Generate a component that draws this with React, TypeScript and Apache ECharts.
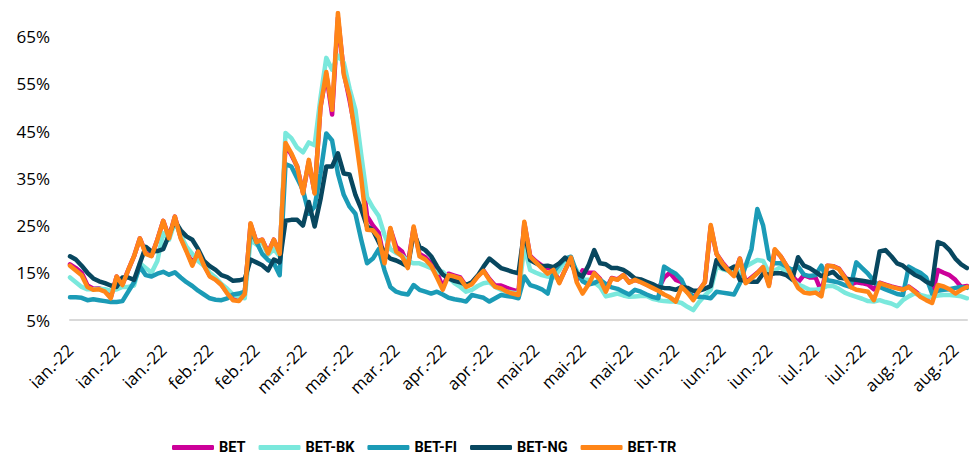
import React, { useEffect, useRef } from "react";
import * as echarts from "echarts";

// month label per trading day (label shown every 8th point)
const monthCounts: [string, number][] = [
  ["ian.-22", 22],
  ["feb.-22", 18],
  ["mar.-22", 23],
  ["apr.-22", 17],
  ["mai-22", 22],
  ["iun.-22", 22],
  ["iul.-22", 20],
  ["aug.-22", 11],
];
const categories: string[] = [];
monthCounts.forEach(([m, n]) => {
  for (let k = 0; k < n; k++) categories.push(m);
});

const yTicks = [5, 15, 25, 35, 45, 55, 65];

const betTR = [
  16.5, 15.5, 14.5, 12, 11.4, 11.5, 11, 9.6, 14.2, 12.4,
  15.6, 18.5, 22.3, 19, 18.5, 22, 26, 22.3, 26.9, 22.3,
  19.5, 16.5, 19.5, 16.5, 14.2, 13.5, 12.4, 10.6, 9.2, 9.0,
  10.5, 25.5, 21.5, 22, 19.1, 22, 19, 42.5, 40.3, 37.5,
  31.8, 38.9, 31.8, 50, 57.5, 49.5, 70, 57, 52.3, 44,
  35, 24.1, 24, 22.5, 17, 24.5, 19.5, 18.5, 16, 24.8,
  18.5, 17.8, 16.5, 14, 11.4, 14.5, 14.2, 13.8, 12, 12.6,
  14.2, 15.4, 13.5, 12, 11.7, 11, 10.6, 10.3, 25.8, 18.4,
  17.2, 16, 14.8, 15.6, 12.8, 15.6, 18.2, 13, 10.6, 12.5,
  14.9, 13.5, 11, 13.8, 13.5, 14.5, 12.9, 13.5, 13, 12.4,
  11.8, 11.2, 10.4, 9.8, 8.9, 12, 10.8, 9.2, 11.2, 13,
  25.1, 19, 17, 15.5, 14.3, 18, 12.8, 13.8, 14.9, 16.2,
  12.2, 20, 18.5, 16.5, 14, 11.8, 10.8, 10.6, 10.8, 10,
  16.5, 16.4, 15.8, 14, 12, 11.4, 11.2, 11, 9.2, 12.8,
  12.4, 12, 11.7, 11.4, 12, 11, 9.9, 9.2, 8.6, 12.4,
  12.1, 11.5, 10.6, 11.4, 12,
];

const bet = [
  16.8, 16, 15, 12.3, 11.6, 11.7, 11.2, 9.8, 14.2, 12.5,
  15.6, 18.5, 22.3, 19.2, 18.6, 22, 26, 22.5, 26.9, 22.5,
  19.8, 16.8, 19.6, 16.7, 14.4, 13.6, 12.5, 10.8, 9.4, 9.2,
  10.6, 25.3, 21.6, 22, 19.3, 22, 19.2, 42, 40, 37.5,
  32, 38.5, 32, 50, 57, 48.5, 69, 57.5, 51.5, 45,
  37, 27, 25, 23.5, 17.5, 24.3, 20.5, 19.5, 16.8, 24.5,
  19, 18.3, 17, 15, 12, 14.8, 14.4, 14, 12.2, 12.8,
  14.3, 15.5, 13.7, 12.3, 12.3, 11.8, 11.4, 11, 25.5, 18.6,
  17.4, 16.5, 16, 15.8, 13, 15.6, 18.2, 13.5, 15.5, 15,
  15, 13.7, 11.5, 13.9, 13.6, 14.5, 13, 13.5, 13.1, 12.5,
  12, 11.5, 14, 15, 13.5, 13, 11, 9.5, 11.3, 13,
  24.8, 19, 17.2, 15.7, 14.5, 18, 13, 14, 15, 16.2,
  12.5, 19.8, 18.5, 16.5, 14.3, 13, 14.5, 14, 14, 11,
  16.5, 16.4, 15.9, 14.2, 12.5, 13, 12.8, 12.5, 11.5, 12.9,
  12.5, 12.1, 11.8, 11.5, 12.1, 11.2, 10.2, 9.6, 10, 15.6,
  15, 14.5, 13.5, 12, 12.2,
];

const betBK = [
  14, 13, 12, 11.5, 11.5, 11.6, 11.5, 11.2, 11.5, 12,
  12, 12.3, 17, 16, 15, 17.5, 23.4, 22, 25.8, 23,
  20.5, 19, 17.5, 16.5, 15, 14, 12.6, 11.6, 10.4, 9.9,
  9.6, 22, 21, 21.5, 18.8, 20, 18.5, 44.6, 43.5, 41.5,
  40.5, 42.6, 42, 52, 60.5, 58, 61, 59.5, 54, 49.5,
  40, 31, 28.8, 27, 23, 20, 19.2, 18.6, 17.5, 17,
  17, 16.5, 16, 15, 15.2, 14, 12.8, 12, 11, 11.4,
  12.2, 12.8, 13, 12, 11.4, 11, 10.8, 10.6, 20.5, 15.6,
  15, 14.5, 14.2, 14, 15.5, 17.7, 17.5, 15.5, 13.5, 13.5,
  13, 12, 10, 10.3, 10.6, 10.2, 9.9, 10, 10.1, 10.1,
  9.5, 9.2, 9, 8.9, 8.9, 8.6, 7.8, 7.1, 8.8, 10.2,
  11.4, 16.3, 15.8, 15.4, 15, 15.2, 16.3, 17, 17.7, 17.5,
  15, 15.5, 16.2, 15, 13.5, 12.5, 12, 11.4, 11.4, 11.6,
  12.2, 12.2, 11.6, 10.8, 10.3, 9.9, 9.5, 9, 8.9, 9.2,
  8.8, 8.5, 7.9, 9.2, 10, 10.6, 10.3, 10, 9.9, 10.2,
  10.3, 10.3, 10.2, 10, 9.6,
];

const betFI = [
  9.8, 9.8, 9.7, 9.2, 9.4, 9.2, 9, 8.8, 8.8, 9,
  11, 13, 16.3, 14.5, 14.2, 14.8, 15.2, 14.6, 15.1, 14,
  13, 12.2, 11.2, 10.4, 9.6, 9.3, 9.2, 9.6, 10.4, 10.6,
  11, 24, 21.5, 19, 17.7, 17, 14.5, 38, 37.5, 35,
  32.5, 27.5, 29, 36, 44.5, 43, 36, 31.5, 29, 27.5,
  22, 17, 18, 20, 15.5, 12, 11, 10.6, 10.4, 12.4,
  11.4, 11, 10.6, 11, 10.4, 9.7, 9.4, 9.2, 8.9, 10.3,
  10, 9.7, 8.9, 9.6, 10.3, 10.1, 9.9, 9.6, 14.2, 12.4,
  12, 11.5, 10.6, 15.2, 16.8, 18, 18.4, 15, 13.2, 12.5,
  12.8, 13.5, 12.6, 11.9, 11.6, 11, 10.4, 11.4, 11, 10.4,
  9.9, 9.6, 16.3, 15.5, 14.8, 13.5, 10.8, 10.1, 9.9, 9.8,
  9.6, 11, 10.8, 10.6, 10.4, 12.8, 16.5, 20, 28.5, 25,
  18, 17, 17, 16.3, 15.6, 16.3, 14.6, 14.3, 14.5, 16.5,
  13.4, 13.2, 12.9, 12.4, 12, 17.2, 16, 14.8, 13.3, 12,
  11.5, 11, 10.5, 10.3, 16.3, 15.6, 15, 14, 10.6, 11.2,
  11.4, 11.5, 11.8, 12, 11.8,
];

const betNG = [
  18.5, 17.8, 16.5, 15, 13.8, 13.2, 12.8, 12.3, 12, 14,
  14, 13.5, 17, 20.5, 19.5, 19.6, 20, 23, 26, 24,
  22.7, 22, 20, 17.5, 16.4, 15.6, 14.5, 14.1, 13.3, 13.4,
  13.7, 17.8, 17.2, 16.6, 15.5, 17.8, 17.2, 26, 26.2, 26.2,
  25, 30, 24.8, 30.5, 37.5, 37.5, 40.3, 36, 35.8, 31.5,
  28.5, 24.8, 24, 21.5, 19.2, 18, 17.6, 17, 16.3, 23.4,
  20.5, 19.8, 18.5, 16.4, 14.6, 13.8, 13.3, 13, 12.4, 13,
  14.4, 16.3, 18, 17, 16, 15.6, 15.2, 14.9, 24, 17.7,
  17, 16.4, 16.5, 16.2, 17, 18.2, 17, 14.9, 14.2, 16.5,
  19.8, 17, 16.8, 16, 16, 15.6, 14.8, 13.8, 13.6, 13.1,
  12.6, 12, 11.8, 11.7, 11.4, 12, 11.8, 11.2, 11.2, 11.6,
  12.2, 17.7, 16, 15.6, 16.3, 13.5, 13.3, 13.1, 13.1, 14.8,
  14.6, 14.9, 14.9, 14.5, 13.6, 18.3, 16.5, 16, 15.2, 14.3,
  14.7, 15.2, 14, 13.8, 13.6, 13.5, 13.3, 13.1, 12.8, 19.5,
  19.8, 18.5, 17, 16.5, 15.5, 14.6, 14, 13.1, 12.5, 21.5,
  21, 19.8, 18, 16.8, 16,
];

const seriesDefs: { name: string; data: number[]; color: string }[] = [
  { name: "BET", data: bet, color: "#cc0099" },
  { name: "BET-BK", data: betBK, color: "#7ae8dc" },
  { name: "BET-FI", data: betFI, color: "#1b9bb6" },
  { name: "BET-NG", data: betNG, color: "#08475f" },
  { name: "BET-TR", data: betTR, color: "#ff8517" },
];

export default function App() {
  const ref = useRef<HTMLDivElement>(null);
  useEffect(() => {
    if (!ref.current) return;
    const chart = echarts.init(ref.current, null, { renderer: "svg" });
    const font = "'Open Sans', sans-serif";
    const legendFont = "'Roboto', sans-serif";
    chart.setOption({
      animation: false,
      grid: { left: 70, right: 2, top: 13, bottom: 135, containLabel: false },
      legend: {
        left: 167,
        top: 435,
        icon: "roundRect",
        itemWidth: 42,
        itemHeight: 5,
        itemGap: 13,
        textStyle: { fontFamily: legendFont, fontWeight: "bold", fontSize: 14.5, color: "#000" },
        data: seriesDefs.map((s) => s.name),
      },
      xAxis: {
        type: "category",
        data: categories,
        boundaryGap: false,
        axisLine: { lineStyle: { color: "#d9d9d9", width: 2 } },
        axisTick: { show: false },
        axisLabel: {
          interval: 7,
          rotate: 45,
          margin: 27,
          fontFamily: font,
          fontSize: 17,
          color: "#000",
        },
        splitLine: { show: false },
      },
      yAxis: {
        type: "value",
        min: yTicks[0],
        max: 70,
        interval: 10,
        axisLine: { show: false },
        axisTick: { show: false },
        splitLine: { show: false },
        axisLabel: {
          formatter: "{value}%",
          showMaxLabel: false,
          margin: 20,
          fontFamily: font,
          fontSize: 17,
          color: "#000",
        },
      },
      series: seriesDefs.map((s) => ({
        name: s.name,
        type: "line",
        data: s.data,
        symbol: "none",
        color: s.color,
        lineStyle: { width: 4.5, color: s.color, cap: "round", join: "round" },
        itemStyle: { color: s.color },
      })),
    });
    return () => chart.dispose();
  }, []);
  return (
    <div
      ref={ref}
      style={{ position: "absolute", left: 0, top: 0, width: 969, height: 455 }}
    />
  );
}
